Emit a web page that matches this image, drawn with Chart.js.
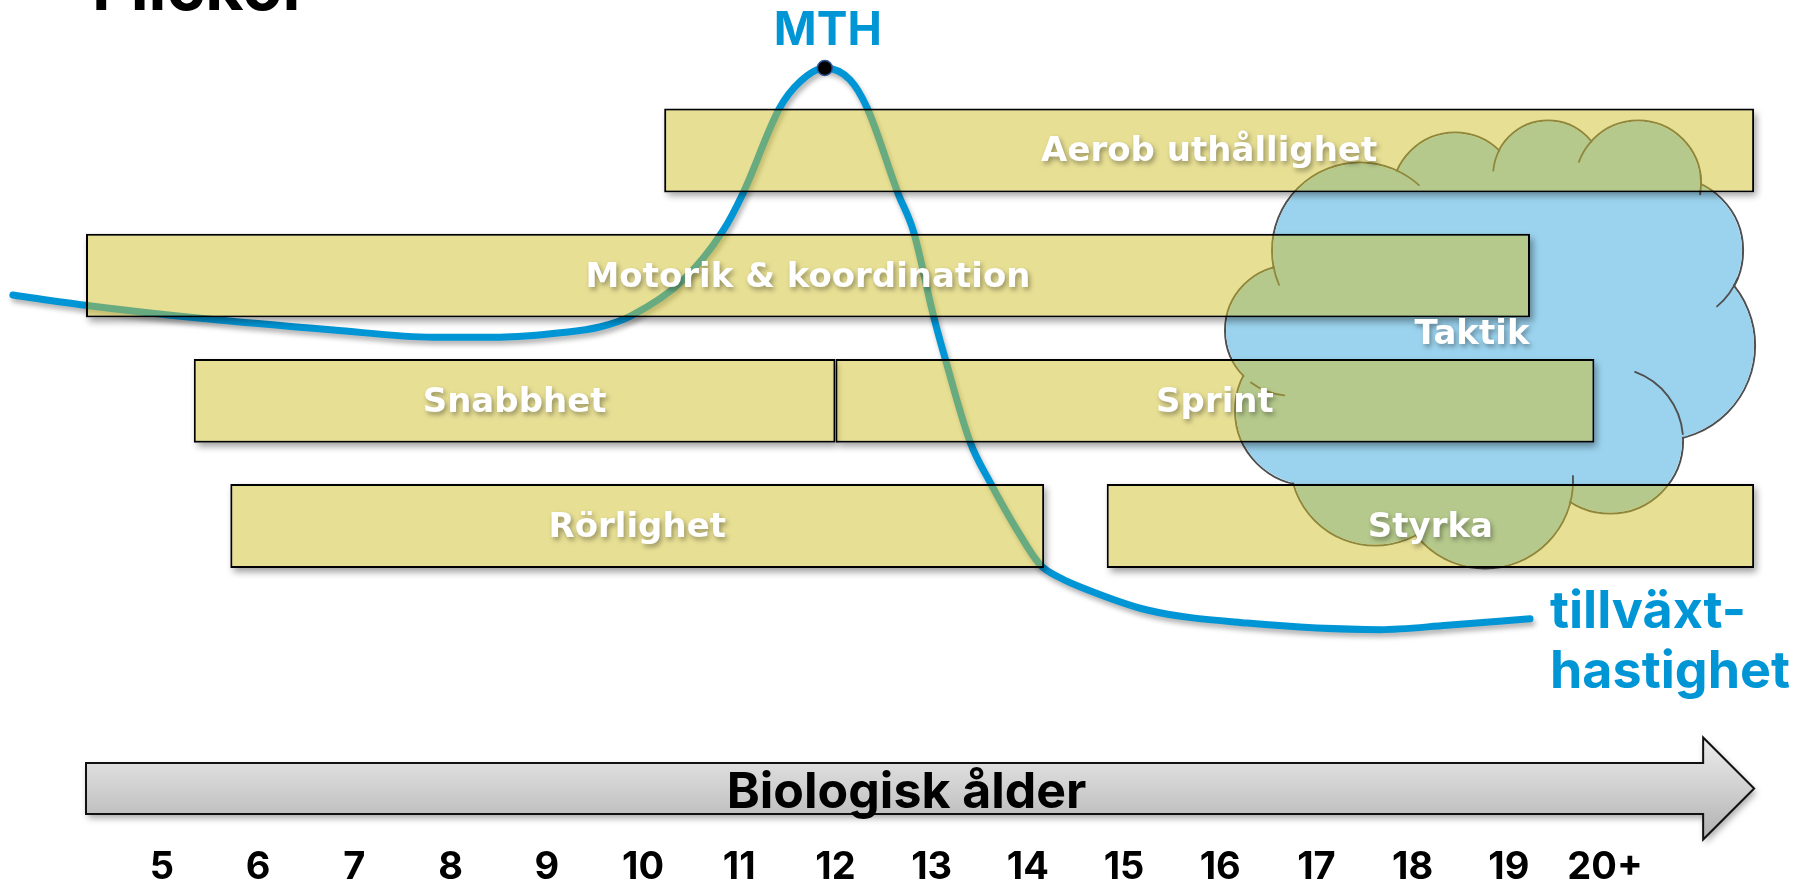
<!DOCTYPE html>
<html>
<head>
<meta charset="utf-8">
<script src="https://cdn.jsdelivr.net/npm/chart.js@4.4.1/dist/chart.umd.min.js"></script>
<style>
html,body{margin:0;padding:0;background:#fff;overflow:hidden}
#wrap{width:1793px;height:886px;position:relative}
canvas{display:block}
</style>
</head>
<body>
<div id="wrap"><canvas id="c" width="1793" height="886"></canvas></div>
<script>
// ---------- data ----------
const titleText = 'Flickor';
const axisTitle = 'Biologisk ålder';
const tickValues = [5, 6, 7, 8, 9, 10, 11, 12, 13, 14, 15, 16, 17, 18, 19, 20];
const tickLabels = ['5', '6', '7', '8', '9', '10', '11', '12', '13', '14', '15', '16', '17', '18', '19', '20+'];

const activities = ['Aerob uthållighet', 'Motorik & koordination', 'Snabbhet', 'Sprint', 'Rörlighet', 'Styrka'];
const activityRow = [0, 1, 2, 2, 3, 3];
const activityStart = [10.22, 4.21, 5.33, 12.0, 5.71, 14.82];
const activityEnd = [21.55, 19.22, 12.0, 19.89, 14.17, 21.55];

const tacticLabel = 'Taktik';
const tacticAges = [16.05, 21.56];
const tacticRows = [-0.24, 3.34];

const growthAge = [3.45, 4.20, 5.40, 6.78, 7.82, 8.51, 9.14, 9.55, 9.87, 10.42, 10.83, 11.04, 11.42, 11.63, 11.89,
  12.15, 12.33, 12.65, 12.81, 13.02, 13.14, 13.40, 13.61, 13.87, 14.13, 14.34, 14.54, 15.24, 16.28, 17.66, 18.36, 19.22];
const growthVelocity = [4.88, 4.74, 4.56, 4.40, 4.30, 4.30, 4.36, 4.44, 4.59, 5.09, 5.76, 6.28, 7.45, 7.81, 8.00,
  7.84, 7.45, 6.28, 5.76, 4.59, 4.01, 2.86, 2.30, 1.69, 1.17, 0.99, 0.87, 0.55, 0.37, 0.28, 0.34, 0.43];
const peakLabel = 'MTH';
const curveLabel = ['tillväxt-', 'hastighet'];

// ---------- styling ----------
const BLUE = '#0096D6';
const BAR_FILL = 'rgba(208,191,41,0.5)';
const CLOUD_FILL = '#9BD3EE';
const CLOUD_LINE = '#4f4f4f';
const LABEL_FONT = 'bold 34px "DejaVu Sans"';
const peakIndex = growthVelocity.indexOf(Math.max(...growthVelocity));

// cloud lobes relative to a 530 x 448 reference box [cx, cy, r]
const CLOUD_LOBES = [
  [230, 75, 63], [323, 55, 55], [413, 63, 63], [445, 130, 73], [435, 225, 95], [385, 320, 73],
  [260, 360, 88], [150, 340, 85], [85, 290, 75], [65, 210, 65], [135, 130, 88]
];
// small inner arcs of the cloud outline [lobe, fromDeg, toDeg]
const CLOUD_HOOKS = [[10, -65, -48], [1, 185, 208], [2, 200, 222], [2, -8, 10], [3, 22, 50],
  [5, -70, -5], [6, -3, 16], [9, 95, 127], [10, 157, 170]];

function cloudGeometry(chart) {
  const xs = chart.scales.x, ys = chart.scales.rows;
  const x0 = xs.getPixelForValue(tacticAges[0]), x1 = xs.getPixelForValue(tacticAges[1]);
  const y0 = ys.getPixelForValue(tacticRows[0]), y1 = ys.getPixelForValue(tacticRows[1]);
  const sx = (x1 - x0) / 530, sy = (y1 - y0) / 448;
  return {x0, x1, y0, y1, lobes: CLOUD_LOBES.map(([u, v, r]) => ({cx: x0 + u * sx, cy: y0 + v * sy, rx: r * sx, ry: r * sy}))};
}

function shadowRect(chart, ctx, x, y, w, h) {
  const OFF = 5000;
  ctx.save();
  ctx.beginPath();
  ctx.rect(0, 0, chart.width, chart.height);
  ctx.rect(x, y, w, h);
  ctx.clip('evenodd');
  ctx.shadowColor = 'rgba(0,0,0,0.38)';
  ctx.shadowBlur = 7;
  ctx.shadowOffsetX = OFF + 3;
  ctx.shadowOffsetY = 4;
  ctx.fillStyle = '#000';
  ctx.fillRect(x - OFF, y, w, h);
  ctx.restore();
}

const decor = {
  id: 'decor',
  beforeDatasetsDraw(chart) {
    const ctx = chart.ctx;
    const g = cloudGeometry(chart);
    ctx.save();
    ctx.lineWidth = 2;
    ctx.strokeStyle = CLOUD_LINE;
    g.lobes.forEach(l => { ctx.beginPath(); ctx.ellipse(l.cx, l.cy, l.rx, l.ry, 0, 0, Math.PI * 2); ctx.stroke(); });
    ctx.fillStyle = CLOUD_FILL;
    g.lobes.forEach(l => { ctx.beginPath(); ctx.ellipse(l.cx, l.cy, l.rx - 1, l.ry - 1, 0, 0, Math.PI * 2); ctx.fill(); });
    ctx.beginPath();
    g.lobes.forEach((l, i) => i ? ctx.lineTo(l.cx, l.cy) : ctx.moveTo(l.cx, l.cy));
    ctx.closePath();
    ctx.fill();
    ctx.lineWidth = 1.8;
    ctx.lineCap = 'round';
    CLOUD_HOOKS.forEach(([k, a0, a1]) => {
      const l = g.lobes[k];
      ctx.beginPath();
      ctx.ellipse(l.cx, l.cy, l.rx, l.ry, 0, a0 * Math.PI / 180, a1 * Math.PI / 180);
      ctx.stroke();
    });
    ctx.restore();
  },
  beforeDatasetDraw(chart, args) {
    const ctx = chart.ctx;
    const ds = chart.data.datasets[args.index];
    if (ds.role === 'curve') {
      ctx.save();
      ctx.shadowColor = 'rgba(0,0,0,0.3)';
      ctx.shadowBlur = 5;
      ctx.shadowOffsetX = 2;
      ctx.shadowOffsetY = 4;
    } else if (ds.role === 'bars') {
      args.meta.data.forEach(el => {
        const left = Math.min(el.x, el.base), w = Math.abs(el.x - el.base);
        shadowRect(chart, ctx, left, el.y - el.height / 2, w, el.height);
      });
    }
  },
  afterDatasetDraw(chart, args) {
    const ds = chart.data.datasets[args.index];
    if (ds.role === 'curve') chart.ctx.restore();
  },
  afterDatasetsDraw(chart) {
    const ctx = chart.ctx;
    const barMeta = chart.getDatasetMeta(0);
    ctx.save();
    ctx.textAlign = 'center';
    ctx.textBaseline = 'middle';
    ctx.font = LABEL_FONT;
    ctx.fillStyle = '#fff';
    ctx.shadowColor = 'rgba(0,0,0,0.35)';
    ctx.shadowBlur = 5;
    ctx.shadowOffsetX = 2;
    ctx.shadowOffsetY = 3;
    barMeta.data.forEach((el, i) => {
      ctx.fillText(activities[i], (el.x + el.base) / 2, el.y + 2);
    });
    // Taktik
    const g = cloudGeometry(chart);
    const ys = chart.scales.rows;
    ctx.fillText(tacticLabel, (g.x0 + g.x1) / 2 - 18, (ys.getPixelForValue(1) + ys.getPixelForValue(2)) / 2 - 3);
    ctx.restore();

    // MTH
    const pk = chart.getDatasetMeta(2).data[0];
    ctx.save();
    ctx.fillStyle = BLUE;
    ctx.textAlign = 'center';
    ctx.textBaseline = 'alphabetic';
    ctx.font = 'bold 46px Inter';
    ctx.fillText(peakLabel, pk.x + 3, pk.y - 23);
    // curve label
    const lm = chart.getDatasetMeta(1).data;
    const last = lm[lm.length - 1];
    ctx.textAlign = 'left';
    ctx.font = 'bold 52px Inter';
    ctx.fillText(curveLabel[0], last.x + 20, last.y + 9);
    ctx.fillText(curveLabel[1], last.x + 20, last.y + 69);
    ctx.restore();
  },
  afterDraw(chart) {
    const ctx = chart.ctx;
    const xs = chart.scales.x;
    const b = chart.chartArea.bottom;
    const xl = xs.getPixelForValue(4.21), xh = xs.getPixelForValue(21.02), xt = xs.getPixelForValue(21.55);
    const yc = b - 61.5, bh = 25.5, hh = 51;
    const path = () => {
      ctx.beginPath();
      ctx.moveTo(xl, yc - bh); ctx.lineTo(xh, yc - bh); ctx.lineTo(xh, yc - hh); ctx.lineTo(xt, yc);
      ctx.lineTo(xh, yc + hh); ctx.lineTo(xh, yc + bh); ctx.lineTo(xl, yc + bh); ctx.closePath();
    };
    ctx.save();
    ctx.shadowColor = 'rgba(0,0,0,0.35)';
    ctx.shadowBlur = 7;
    ctx.shadowOffsetX = 2;
    ctx.shadowOffsetY = 4;
    const grad = ctx.createLinearGradient(0, yc - hh, 0, yc + hh);
    grad.addColorStop(0, '#ececec');
    grad.addColorStop(0.5, '#d0d0d0');
    grad.addColorStop(1, '#b0b0b0');
    path();
    ctx.fillStyle = grad;
    ctx.fill();
    ctx.restore();
    ctx.save();
    path();
    ctx.lineWidth = 2;
    ctx.strokeStyle = '#111';
    ctx.lineJoin = 'miter';
    ctx.stroke();
    ctx.fillStyle = '#000';
    ctx.font = 'bold 50px Inter';
    ctx.textAlign = 'center';
    ctx.textBaseline = 'alphabetic';
    ctx.fillText(axisTitle, xs.getPixelForValue(12.74), yc + 19);
    // title (mostly cut off at the top)
    ctx.textAlign = 'left';
    ctx.font = 'bold 66px Inter';
    ctx.fillText(titleText, 92, 10);
    ctx.restore();
  }
};

const chart = new Chart(document.getElementById('c'), {
  type: 'bar',
  data: {
    datasets: [
      {
        role: 'bars', type: 'bar', indexAxis: 'y', xAxisID: 'x', yAxisID: 'rows',
        data: activities.map((n, i) => ({x: [activityStart[i], activityEnd[i]], y: activityRow[i]})),
        backgroundColor: BAR_FILL, borderColor: '#000', borderWidth: 2, borderSkipped: false,
        barPercentage: 0.67, categoryPercentage: 1, grouped: false, order: 1
      },
      {
        role: 'curve', type: 'line', xAxisID: 'x', yAxisID: 'vel',
        data: growthAge.map((a, i) => ({x: a, y: growthVelocity[i]})),
        borderColor: BLUE, borderWidth: 7, borderCapStyle: 'round', borderJoinStyle: 'round',
        pointRadius: 0, cubicInterpolationMode: 'monotone', fill: false, order: 2, clip: false
      },
      {
        role: 'peak', type: 'line', xAxisID: 'x', yAxisID: 'vel', showLine: false,
        data: [{x: growthAge[peakIndex], y: growthVelocity[peakIndex]}],
        pointRadius: 7.5, pointBackgroundColor: '#000', pointBorderColor: '#2F5597', pointBorderWidth: 1.5,
        order: 0, clip: false
      }
    ]
  },
  options: {
    responsive: false,
    animation: false,
    devicePixelRatio: 1,
    layout: {padding: 0, autoPadding: false},
    plugins: {legend: {display: false}, tooltip: {enabled: false}, title: {display: false}},
    scales: {
      x: {
        type: 'linear', position: 'bottom', min: 3.316, max: 21.954, offset: false,
        afterBuildTicks: s => { s.ticks = tickValues.map(v => ({value: v})); },
        afterFit: s => { s.paddingLeft = 0; s.paddingRight = 0; },
        ticks: {
          callback: (v, i) => tickLabels[i], color: '#000', autoSkip: false, maxRotation: 0, padding: 0,
          font: {family: 'Inter', weight: 'bold', size: 38, lineHeight: 36 / 38}
        },
        grid: {display: false, drawTicks: false, offset: false}, border: {display: false}
      },
      rows: {
        type: 'linear', axis: 'y', display: false, reverse: true, min: -1.2024, max: 5.5883, offset: false,
        grid: {offset: false},
        afterBuildTicks: s => { s.ticks = [0, 1, 2, 3].map(v => ({value: v})); }
      },
      vel: {type: 'linear', axis: 'y', display: false, min: -2.749, max: 8.935, offset: false, grid: {offset: false}}
    }
  },
  plugins: [decor]
});
</script>
</body>
</html>
